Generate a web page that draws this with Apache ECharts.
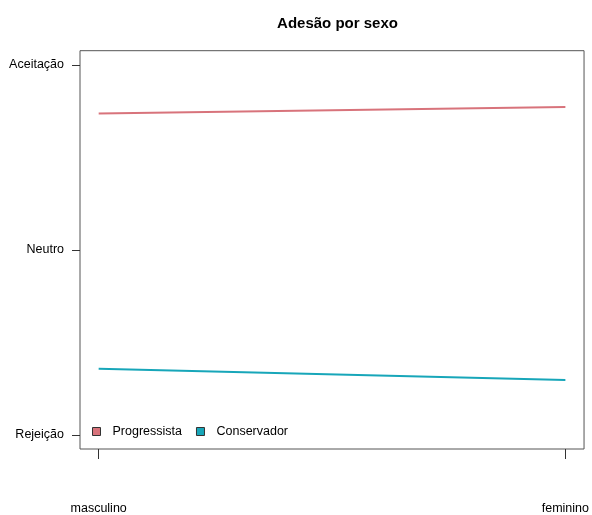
<!DOCTYPE html>
<html>
<head>
<meta charset="utf-8">
<script src="https://cdn.jsdelivr.net/npm/echarts@6/dist/echarts.min.js"></script>
<style>
html,body{margin:0;padding:0;background:#fff;}
#chart{width:592px;height:515px;}
</style>
</head>
<body>
<div id="chart"></div>
<script>
var titleText = 'Adesão por sexo';
var categories = ['masculino', 'feminino'];
var categoryPositions = [1, 2];
var seriesNames = ['Progressista', 'Conservador'];
var progressista = [0.737, 0.773];
var conservador = [-0.643, -0.704];
var yTickValues = [-1, 0, 1];
var yTickLabels = ['Rejeição', 'Neutro', 'Aceitação'];
var colors = ['#d8737b', '#17a6b9'];

function pairs(vals) {
  return categoryPositions.map(function (x, i) { return [x, vals[i]]; });
}

var font = 'Liberation Sans, Arial, Helvetica, sans-serif';
var chart = echarts.init(document.getElementById('chart'), null, {renderer: 'canvas'});
chart.setOption({
  animation: false,
  backgroundColor: '#fff',
  title: {
    text: titleText,
    left: 332.5,
    textAlign: 'center',
    top: 11,
    textStyle: {fontFamily: font, fontSize: 15, fontWeight: 'bold', color: '#000'}
  },
  grid: {
    left: 80, right: 6.7, top: 50.7, bottom: 65.7,
    show: true, borderColor: '#555', borderWidth: 1, containLabel: false
  },
  legend: {
    left: 92,
    top: 425,
    icon: 'rect',
    itemWidth: 8,
    itemHeight: 8,
    itemGap: 14,
    padding: [0, 0, 0, 0],
    selectedMode: false,
    itemStyle: {borderColor: '#333', borderWidth: 1},
    textStyle: {fontFamily: font, fontSize: 12.5, color: '#000', padding: [2, 0, 0, 7]},
    data: seriesNames
  },
  xAxis: {
    type: 'value',
    min: 0.96,
    max: 2.04,
    splitLine: {show: false},
    axisLine: {show: false, onZero: false},
    axisTick: {show: true, length: 10, customValues: categoryPositions, lineStyle: {color: '#333'}},
    axisLabel: {
      show: true,
      customValues: categoryPositions,
      margin: 53,
      fontFamily: font, fontSize: 12.5, color: '#000',
      formatter: function (v) { var i = categoryPositions.indexOf(v); return i >= 0 ? categories[i] : ''; }
    }
  },
  yAxis: {
    type: 'value',
    min: -1.077,
    max: 1.077,
    splitLine: {show: false},
    axisLine: {show: false, onZero: false},
    axisTick: {show: true, length: 8, customValues: yTickValues, lineStyle: {color: '#333'}},
    axisLabel: {
      show: true,
      customValues: yTickValues,
      margin: 16,
      fontFamily: font, fontSize: 12.5, color: '#000',
      padding: [6, 0, 0, 0],
      formatter: function (v) { var i = yTickValues.indexOf(v); return i >= 0 ? yTickLabels[i] : ''; }
    }
  },
  series: [
    {
      name: seriesNames[0], type: 'line', data: pairs(progressista),
      showSymbol: false, symbol: 'none', silent: true,
      color: colors[0],
      lineStyle: {color: colors[0], width: 2}
    },
    {
      name: seriesNames[1], type: 'line', data: pairs(conservador),
      showSymbol: false, symbol: 'none', silent: true,
      color: colors[1],
      lineStyle: {color: colors[1], width: 2}
    }
  ]
});
</script>
</body>
</html>
